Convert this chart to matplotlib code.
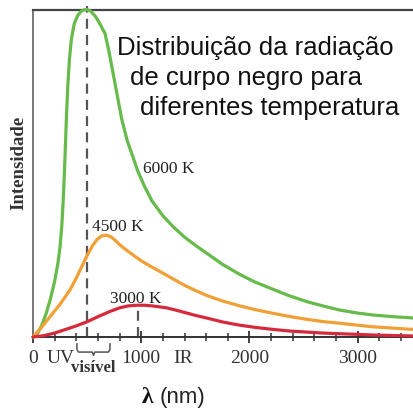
import matplotlib
matplotlib.use("Agg")
import matplotlib.pyplot as plt
from matplotlib.ticker import MultipleLocator

# ---- data (wavelength in nm, relative intensity) ----
wl_6000 = [0, 40, 80, 120, 160, 200, 230, 250, 265, 278, 290, 300, 310, 322,
           337, 355, 380, 410, 440, 470, 496, 530, 579, 620, 665, 700, 760,
           820, 870, 920, 970, 1030, 1100, 1200, 1300, 1400, 1500, 1604, 1750,
           1900, 2050, 2200, 2350, 2530, 2700, 2838, 3000, 3146, 3330, 3520]
int_6000 = [0, 0.01, 0.035, 0.07, 0.115, 0.17, 0.225, 0.275, 0.335, 0.41,
            0.5, 0.59, 0.68, 0.77, 0.85, 0.91, 0.955, 0.98, 0.993, 0.999, 1.0,
            0.996, 0.978, 0.955, 0.927, 0.875, 0.77, 0.665, 0.6, 0.553, 0.505,
            0.46, 0.415, 0.37, 0.335, 0.305, 0.28, 0.256, 0.222, 0.193, 0.168,
            0.148, 0.128, 0.108, 0.093, 0.082, 0.073, 0.067, 0.062, 0.058]

wl_4500 = [0, 80, 157, 250, 342, 400, 465, 511, 550, 590, 630, 674, 720, 760,
           800, 860, 926, 1003, 1090, 1173, 1280, 1388, 1500, 1604, 1750,
           1911, 2060, 2222, 2380, 2530, 2680, 2835, 3000, 3146, 3330, 3520]
int_4500 = [0, 0.03, 0.062, 0.1, 0.144, 0.18, 0.225, 0.256, 0.279, 0.297,
            0.308, 0.311, 0.306, 0.295, 0.282, 0.266, 0.25, 0.232, 0.215, 0.2,
            0.18, 0.16, 0.142, 0.127, 0.11, 0.095, 0.083, 0.072, 0.062, 0.054,
            0.047, 0.042, 0.036, 0.031, 0.027, 0.023]

wl_3000 = [0, 100, 200, 300, 400, 496, 600, 711, 800, 880, 957, 1030, 1100,
           1170, 1234, 1320, 1400, 1500, 1604, 1750, 1911, 2060, 2222, 2380,
           2530, 2680, 2835, 3000, 3146, 3330, 3520]
int_3000 = [0, 0.004, 0.012, 0.023, 0.034, 0.046, 0.062, 0.078, 0.089, 0.095,
            0.097, 0.097, 0.095, 0.092, 0.089, 0.082, 0.075, 0.066, 0.058,
            0.046, 0.036, 0.029, 0.023, 0.018, 0.015, 0.012, 0.010, 0.008,
            0.006, 0.0045, 0.003]

series_labels = ["6000 K", "4500 K", "3000 K"]
label_anchor = [(1016, 0.50), (545, 0.324), (711, 0.104)]  # nm, intensity
peak_lines = [(496, 1.012), (966, 0.086)]  # nm, top of dashed line
visible_range = [406, 711]
tick_values = [0, 1000, 2000, 3000]
tick_labels = ["0", "1000", "2000", "3000"]
region_labels = [("UV", 254), ("IR", 1390)]
title_lines = ["Distribuição da radiação", "de curpo negro para",
               "diferentes temperatura"]

GREEN = "#66bb4a"
ORANGE = "#f0a035"
RED = "#d62a3c"
SERIF = "Liberation Serif"
SANS = "Liberation Sans"

fig = plt.figure(figsize=(4.14, 4.12), dpi=100)
ax = fig.add_axes([33 / 414, 75 / 412, 1 - 33 / 414, 327.5 / 412])
ax.set_xlim(0, 3520)
ax.set_ylim(0, 1.0)

lw = 2.3
for wl, val, c in [(wl_6000, int_6000, GREEN), (wl_4500, int_4500, ORANGE),
                   (wl_3000, int_3000, RED)]:
    ax.plot(wl, val, color=c, lw=lw, solid_joinstyle="round",
            solid_capstyle="round", zorder=3, clip_on=False)

for x, top in peak_lines:
    ax.plot([x, x], [0, top], color="#555555", lw=1.6, ls=(0, (4.5, 2.8)),
            zorder=2, clip_on=False)

for lab, (x, y) in zip(series_labels, label_anchor):
    ax.text(x, y, lab, family=SERIF, fontsize=12.5, color="#222222",
            ha="left", va="baseline")

ax.spines["right"].set_visible(False)
ax.spines["top"].set_color("#444444")
ax.spines["top"].set_linewidth(1.6)
ax.spines["left"].set_color("#777777")
ax.spines["left"].set_linewidth(1.4)
ax.spines["bottom"].set_color("#333333")
ax.spines["bottom"].set_linewidth(1.4)

ax.set_yticks([])
ax.set_xticks(tick_values)
ax.set_xticklabels(tick_labels, family=SERIF, fontsize=14, color="#333333")
ax.xaxis.set_minor_locator(MultipleLocator(200))
ax.tick_params(axis="x", which="major", direction="inout", length=9,
               width=1.3, color="#333333", pad=5)
ax.tick_params(axis="x", which="minor", direction="inout", length=5.5,
               width=1.1, color="#333333")

tr = ax.get_xaxis_transform()
for lab, x in region_labels:
    ax.text(x, -0.066, lab, transform=tr, family=SERIF, fontsize=14,
            color="#333333", ha="center", va="center")

# brace for visible range
a, b = visible_range
m = (a + b) / 2
bx = [a, a, a + 14, m - 12, m, m + 12, b - 14, b, b]
by = [-0.021, -0.038, -0.046, -0.046, -0.056, -0.046, -0.046, -0.038, -0.021]
ax.plot(bx, by, transform=tr, color="#555555", lw=1.1, clip_on=False)
ax.text(m - 4, -0.095, "visível", transform=tr, family=SERIF,
        fontweight="bold", fontsize=12, color="#333333", ha="center",
        va="center")

fig.text(147 / 414, 0.036, "λ", family=SERIF, fontweight="bold",
         fontsize=17, color="#111111", ha="center", va="center")
fig.text(160 / 414, 0.036, "(nm)", family=SANS, fontsize=16,
         color="#222222", ha="left", va="center")

fig.text(19 / 414, 0.604, "Intensidade", family=SERIF, fontweight="bold",
         fontsize=13.5, color="#333333", rotation=90, ha="center",
         va="center")

title_pos = [(117, 55), (130, 85), (140, 115)]
for line, (px, py) in zip(title_lines, title_pos):
    fig.text(px / 414, (412 - py) / 412, line, family=SANS, fontsize=18.5,
             color="#111111", ha="left", va="baseline")

fig.savefig("out.png", dpi=100)
